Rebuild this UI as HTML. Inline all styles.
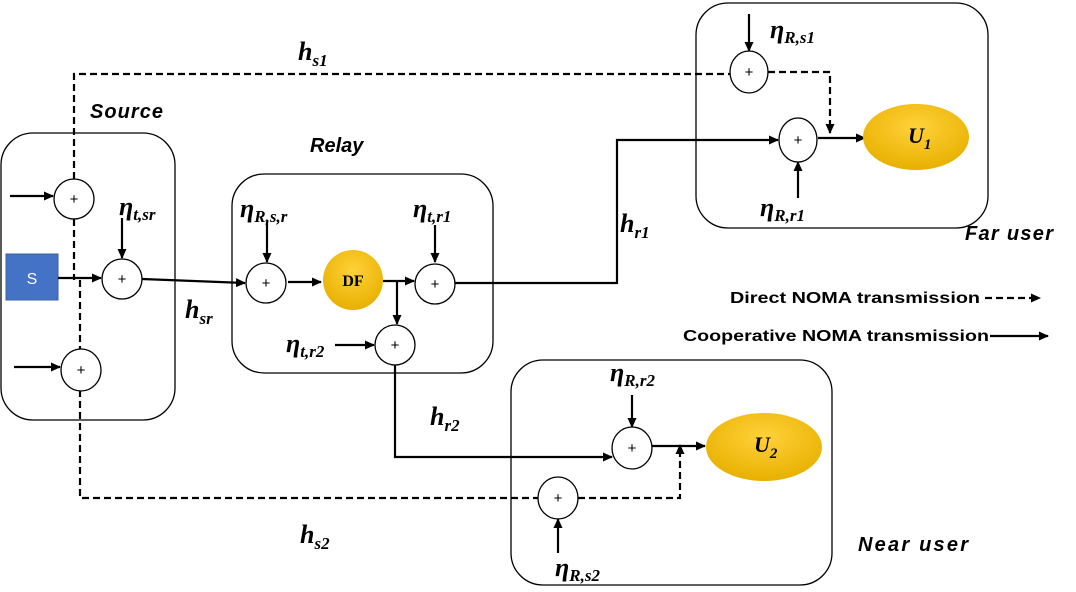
<!DOCTYPE html>
<html><head><meta charset="utf-8"><style>
html,body{margin:0;padding:0;background:#fff;}
svg{display:block;}
.m{font-family:"Liberation Serif",serif;font-weight:bold;font-style:italic;fill:#000;}
.l{font-family:"Liberation Sans",sans-serif;font-weight:bold;font-style:italic;font-size:20px;fill:#000;}
.p{font-family:"Liberation Sans",sans-serif;font-size:15px;fill:#000;}
</style></head><body>
<svg width="1076" height="592" viewBox="0 0 1076 592" xmlns="http://www.w3.org/2000/svg">
<defs>
<marker id="a" markerWidth="10" markerHeight="9" refX="9" refY="4.5" orient="auto" markerUnits="userSpaceOnUse"><path d="M0,0 L10,4.5 L0,9 z" fill="#000"/></marker>
<radialGradient id="g" cx="50%" cy="35%" r="65%"><stop offset="0" stop-color="#ffd23a"/><stop offset="1" stop-color="#e8b000"/></radialGradient>
</defs>
<g fill="none" stroke="#000" stroke-width="1.3">
<rect x="1" y="133" width="174" height="287" rx="32"/>
<rect x="232" y="174" width="261" height="199" rx="32"/>
<rect x="696" y="3" width="292" height="225" rx="32"/>
<rect x="511" y="360" width="321" height="225" rx="32"/>
</g>
<rect x="6" y="254" width="52" height="46" fill="#4472C4" stroke="#3a62a8"/>
<text x="32" y="284" text-anchor="middle" font-family="Liberation Sans,sans-serif" font-size="16" fill="#fff">S</text>
<g fill="none" stroke="#000" stroke-width="2.2" stroke-dasharray="7,4">
<path d="M74,179 V74 H730"/>
<path d="M768,72 H830 V133" marker-end="url(#a)"/>
<path d="M74,219 V280 M80,280 V350"/>
<path d="M80,390 V498 H538"/>
<path d="M578,498 H680 V445" marker-end="url(#a)"/>
<path d="M985,298 H1040" marker-end="url(#a)"/>
</g>
<g fill="none" stroke="#000" stroke-width="2.2">
<path d="M10,196 H53" marker-end="url(#a)"/>
<path d="M14,367 H60" marker-end="url(#a)"/>
<path d="M58,278 H101" marker-end="url(#a)"/>
<path d="M122,218 V258" marker-end="url(#a)"/>
<path d="M142,279 L245,283" marker-end="url(#a)"/>
<path d="M267,222 V262" marker-end="url(#a)"/>
<path d="M288,282 H321" marker-end="url(#a)"/>
<path d="M383,281 H414" marker-end="url(#a)"/>
<path d="M397,281 V324" marker-end="url(#a)"/>
<path d="M435,225 V262" marker-end="url(#a)"/>
<path d="M455,283 H617 V140 H778" marker-end="url(#a)"/>
<path d="M335,345 H374" marker-end="url(#a)"/>
<path d="M395,365 V457 H612" marker-end="url(#a)"/>
<path d="M818,138 H865" marker-end="url(#a)"/>
<path d="M798,198 V162" marker-end="url(#a)"/>
<path d="M749,14 V51" marker-end="url(#a)"/>
<path d="M632,395 V427" marker-end="url(#a)"/>
<path d="M652,446 H705" marker-end="url(#a)"/>
<path d="M558,553 V519" marker-end="url(#a)"/>
<path d="M990,336 H1048" marker-end="url(#a)"/>
</g>
<g fill="#fff" stroke="#000" stroke-width="1.3">
<circle cx="74" cy="199" r="20"/><circle cx="122" cy="279" r="20"/><ellipse cx="81" cy="370" rx="20" ry="21"/>
<circle cx="266" cy="283" r="20"/><circle cx="435" cy="284" r="20"/><circle cx="395" cy="345" r="20"/>
<ellipse cx="749" cy="72" rx="19" ry="21"/><ellipse cx="798" cy="140" rx="19" ry="22"/>
<ellipse cx="632" cy="448" rx="20" ry="21"/><ellipse cx="558" cy="498" rx="20" ry="21"/>
</g>
<g class="p" text-anchor="middle">
<text x="74" y="204">+</text><text x="122" y="284">+</text><text x="81" y="375">+</text>
<text x="266" y="288">+</text><text x="435" y="289">+</text><text x="395" y="350">+</text>
<text x="749" y="77">+</text><text x="798" y="145">+</text><text x="632" y="453">+</text><text x="558" y="503">+</text>
</g>
<circle cx="353" cy="280" r="30" fill="url(#g)"/>
<text x="353" y="286" text-anchor="middle" font-family="Liberation Serif,serif" font-weight="bold" font-size="16">DF</text>
<ellipse cx="916" cy="137" rx="53" ry="33" fill="url(#g)"/>
<text x="908" y="143" class="m" font-size="22">U<tspan font-size="15" dy="6">1</tspan></text>
<ellipse cx="764" cy="447" rx="58" ry="34" fill="url(#g)"/>
<text x="754" y="452" class="m" font-size="22">U<tspan font-size="15" dy="6">2</tspan></text>
<text class="l" x="90" y="118" textLength="73">Source</text>
<text class="l" x="310" y="152">Relay</text>
<text class="l" x="965" y="240" textLength="88">Far user</text>
<text class="l" x="858" y="551" textLength="110">Near user</text>
<g font-family="Liberation Sans,sans-serif" font-weight="bold" font-size="16" fill="#000">
<text x="730" y="303" textLength="250" lengthAdjust="spacingAndGlyphs">Direct NOMA transmission</text>
<text x="683" y="341" textLength="306" lengthAdjust="spacingAndGlyphs">Cooperative NOMA transmission</text>
</g>
<g class="m" font-size="26">
<text x="298" y="60">h<tspan font-size="17" dy="6">s1</tspan></text>
<text x="185" y="318">h<tspan font-size="17" dy="6">sr</tspan></text>
<text x="620" y="232">h<tspan font-size="17" dy="6">r1</tspan></text>
<text x="430" y="425">h<tspan font-size="17" dy="6">r2</tspan></text>
<text x="300" y="543">h<tspan font-size="17" dy="6">s2</tspan></text>
<text x="119" y="215">η<tspan font-size="17" dy="5">t,sr</tspan></text>
<text x="240" y="217">η<tspan font-size="17" dy="5">R,s,r</tspan></text>
<text x="413" y="217">η<tspan font-size="17" dy="5">t,r1</tspan></text>
<text x="286" y="352">η<tspan font-size="17" dy="5">t,r2</tspan></text>
<text x="770" y="38">η<tspan font-size="17" dy="5">R,s1</tspan></text>
<text x="760" y="216">η<tspan font-size="17" dy="5">R,r1</tspan></text>
<text x="610" y="381">η<tspan font-size="17" dy="5">R,r2</tspan></text>
<text x="555" y="576">η<tspan font-size="17" dy="5">R,s2</tspan></text>
</g>
</svg>
</body></html>
